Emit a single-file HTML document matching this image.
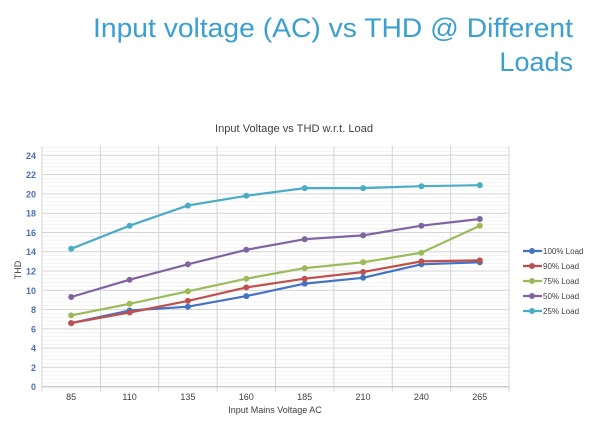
<!DOCTYPE html>
<html><head><meta charset="utf-8"><style>
html,body{margin:0;padding:0;background:#fff;width:600px;height:431px;overflow:hidden}
</style></head><body>
<svg id="s" width="600" height="431" xmlns="http://www.w3.org/2000/svg" font-family="Liberation Sans, sans-serif">
<text x="573" y="37" font-size="27" fill="#3a9fd1" text-anchor="end" textLength="480" lengthAdjust="spacingAndGlyphs">Input voltage (AC) vs THD @ Different</text>
<text x="573" y="71" font-size="27" fill="#3a9fd1" text-anchor="end">Loads</text>
<text x="294" y="132" font-size="11" fill="#404040" text-anchor="middle" textLength="158" lengthAdjust="spacingAndGlyphs">Input Voltage vs THD w.r.t. Load</text>
<g id="g"></g>
</svg>
<script>
var g=document.getElementById('g'),h='';
var L=42,R=509,Y0=386.7,k=9.64,cw=(R-L)/8;
function y(v){return Y0-v*k}
for(var v=0;v<=25.01;v+=0.4){var yy=y(v).toFixed(1);var major=Math.abs(v/2-Math.round(v/2))<0.01;
h+='<line x1="'+L+'" x2="'+R+'" y1="'+yy+'" y2="'+yy+'" stroke="'+(major?'#d4d4d4':'#ececec')+'" stroke-width="'+(major?1:0.6)+'"/>';}
for(var i=0;i<=8;i++){var x=L+i*cw;h+='<line x1="'+x+'" x2="'+x+'" y1="'+y(25)+'" y2="'+(Y0+5)+'" stroke="#d4d4d4"/>';}
h+='<line x1="'+L+'" x2="'+R+'" y1="'+Y0+'" y2="'+Y0+'" stroke="#bfbfbf"/>';
for(var v=0;v<=24;v+=2)h+='<text x="36" y="'+(y(v)+3.5)+'" font-size="9" font-weight="bold" fill="#4a6fb5" text-anchor="end">'+v+'</text>';
var cats=[85,110,135,160,185,210,240,265];
cats.forEach(function(c,i){h+='<text x="'+(L+cw*(i+0.5))+'" y="400" font-size="9" fill="#404040" text-anchor="middle">'+c+'</text>';});
h+='<text x="275" y="413" font-size="9" fill="#404040" text-anchor="middle">Input Mains Voltage AC</text>';
h+='<text x="21" y="270" font-size="9" fill="#404040" text-anchor="middle" transform="rotate(-90 21 270)">THD</text>';
var S=[["100% Load","#4472c4",[6.6,7.9,8.3,9.4,10.7,11.3,12.7,12.9]],
["90% Load","#c0504d",[6.6,7.7,8.9,10.3,11.2,11.9,13,13.1]],
["75% Load","#9bbb59",[7.4,8.6,9.9,11.2,12.3,12.9,13.9,16.7]],
["50% Load","#8064a2",[9.3,11.1,12.7,14.2,15.3,15.7,16.7,17.4]],
["25% Load","#4bacc6",[14.3,16.7,18.8,19.8,20.6,20.6,20.8,20.9]]];
S.forEach(function(s,j){var p=s[2].map(function(v,i){return (L+cw*(i+0.5)).toFixed(1)+','+y(v).toFixed(1)});
h+='<polyline points="'+p.join(' ')+'" fill="none" stroke="'+s[1]+'" stroke-width="2.2"/>';
p.forEach(function(q){var a=q.split(',');h+='<circle cx="'+a[0]+'" cy="'+a[1]+'" r="3" fill="'+s[1]+'"/>';});
var ly=251+j*15;h+='<line x1="523" x2="542" y1="'+ly+'" y2="'+ly+'" stroke="'+s[1]+'" stroke-width="2.2"/><circle cx="532" cy="'+ly+'" r="3" fill="'+s[1]+'"/>';
h+='<text x="543" y="'+(ly+3)+'" font-size="8" fill="#404040">'+s[0]+'</text>';});
g.innerHTML=h;
</script>
</body></html>
